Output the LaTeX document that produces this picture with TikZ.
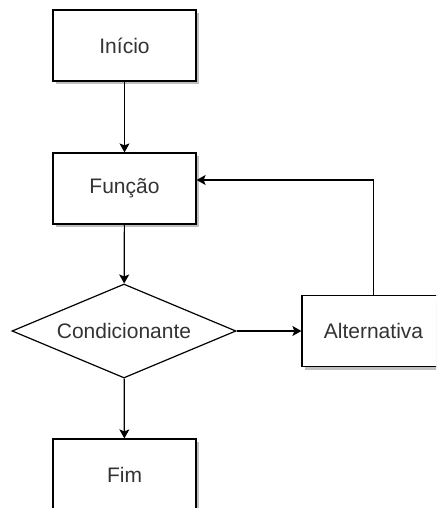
\documentclass[tikz,border=0pt]{standalone}
\usepackage{fontspec}
\setmainfont{Liberation Sans}
\usetikzlibrary{shapes.geometric,arrows.meta,shadows}
\definecolor{txt}{HTML}{333333}
\begin{document}
\begin{tikzpicture}[x=1pt,y=-1pt,
  base/.style={draw=black, line width=1.2pt, fill=white, text=txt,
    font=\fontsize{21}{25}\selectfont, inner sep=0pt},
  stepbox/.style={base, rectangle, minimum width=143pt, minimum height=71pt,
    drop shadow={shadow xshift=3pt, shadow yshift=-3pt, fill=black, opacity=0.25}},
  decision/.style={base, diamond, aspect=2.38, minimum width=224pt, minimum height=94pt},
  flow/.style={draw=black, line width=1.2pt,
    -{Stealth[length=9pt, width=10pt, inset=2pt]}}]
  \clip (0,0) rectangle (436,508);
  \fill[white] (0,0) rectangle (436,508);

  \node[stepbox] (ini) at (124.5,45.5) {Início};
  \node[stepbox] (fun) at (124.5,188.5) {Função};
  \node[decision] (cond) at (124,331) {Condicionante};
  \node[stepbox] (alt) at (373.5,331) {Alternativa};
  \node[stepbox] (fim) at (124.5,474.5) {Fim};

  \draw[flow] (ini) -- (fun);
  \draw[flow] (fun) -- (cond);
  \draw[flow] (cond) -- (alt);
  \draw[flow] (cond) -- (fim);
  \draw[flow] (alt.north) |- ([yshift=8.5pt]fun.east);
\end{tikzpicture}
\end{document}
